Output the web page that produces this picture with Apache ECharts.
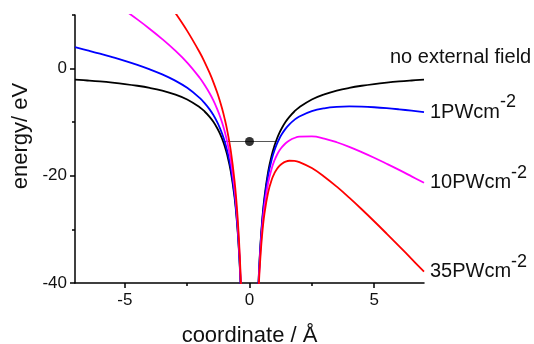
<!DOCTYPE html>
<html>
<head>
<meta charset="utf-8">
<script src="https://cdn.jsdelivr.net/npm/echarts@6/dist/echarts.min.js"></script>
<style>
  html, body { margin: 0; padding: 0; background: #fff; }
  #chart { width: 534px; height: 344px; }
</style>
</head>
<body>
<div id="chart"></div>
<script>
// Electron coordinate (Å) shared by all potential curves
const coordX = [-7, -6.5, -6, -5.5, -5, -4.5, -4, -3.5, -3, -2.5, -2, -1.8, -1.6, -1.45, -1.3, -1.2, -1.1, -1.0, -0.9, -0.75, -0.6, -0.5, -0.42, -0.36, -0.3,
  0,
  0.3, 0.36, 0.42, 0.5, 0.6, 0.75, 0.9, 1.0, 1.1, 1.2, 1.3, 1.45, 1.6, 1.8, 2, 2.5, 3, 3.5, 4, 4.5, 5, 5.5, 6, 6.5, 7];

// Potential energy (eV); null marks the nucleus gap and values above the plot
const noField = [-2.06, -2.22, -2.4, -2.62, -2.88, -3.2, -3.6, -4.11, -4.8, -5.76, -7.2, -8.0, -9.0, -9.93, -11.08, -12.0, -13.09, -14.4, -16.0, -19.2, -24.0, -28.8, -34.29, -40.0, -48.0,
  null,
  -48.0, -40.0, -34.29, -28.8, -24.0, -19.2, -16.0, -14.4, -13.09, -12.0, -11.08, -9.93, -9.0, -8.0, -7.2, -5.76, -4.8, -4.11, -3.6, -3.2, -2.88, -2.62, -2.4, -2.22, -2.06];

const field1 = [4.0, 3.41, 2.8, 2.14, 1.45, 0.7, -0.14, -1.08, -2.2, -3.59, -5.47, -6.44, -7.61, -8.67, -9.95, -10.96, -12.14, -13.53, -15.22, -18.55, -23.48, -28.37, -33.93, -39.69, -47.74,
  null,
  -48.26, -40.31, -34.65, -29.23, -24.52, -19.85, -16.78, -15.27, -14.04, -13.04, -12.21, -11.19, -10.39, -9.56, -8.93, -7.93, -7.4, -7.14, -7.06, -7.1, -7.21, -7.38, -7.6, -7.85, -8.12];

const field10 = [null, null, null, null, 10.87, 9.18, 7.4, 5.51, 3.45, 1.12, -1.7, -3.05, -4.6, -5.94, -7.51, -8.7, -10.07, -11.65, -13.53, -17.14, -22.35, -27.43, -33.14, -39.01, -47.18,
  null,
  -48.83, -40.99, -35.45, -30.18, -25.65, -21.26, -18.48, -17.15, -16.12, -15.3, -14.66, -13.92, -13.4, -12.95, -12.7, -12.64, -13.05, -13.74, -14.6, -15.58, -16.63, -17.75, -18.9, -20.1, -21.31];

const field35 = [null, null, null, null, null, null, null, null, 10.56, 7.04, 3.04, 1.22, -0.81, -2.51, -4.42, -5.86, -7.46, -9.28, -11.39, -15.36, -20.93, -26.24, -32.14, -38.16, -46.46,
  null,
  -49.54, -41.84, -36.44, -31.36, -27.07, -23.04, -20.61, -19.52, -18.72, -18.14, -17.74, -17.35, -17.19, -17.22, -17.44, -18.56, -20.16, -22.03, -24.08, -26.24, -28.48, -30.78, -33.12, -35.5, -37.9];

// Ground-state level and the segment drawn across the well
const groundLevel = -13.6;
const groundSpan = [-1.06, 1.06];
const groundDotX = 0;

// Curve labels (rich text: main part + superscript)
const curveLabels = ['{m|no external field}', '{m|1PWcm}{s|-2}', '{m|10PWcm}{s|-2}', '{m|35PWcm}{s|-2}'];
const curveColors = ['#000000', '#0000ff', '#ff00ff', '#ff0000'];

// Axis ticks
const xMajorTicks = [-5, 0, 5];
const xMinorTicks = [-2.5, 2.5];
const yMajorTicks = [-40, -20, 0];
const yMinorTicks = [-30, -10, 10];

const FONT = "'Liberation Sans', Arial, Helvetica, sans-serif";
const TEXT_COLOR = '#111';

function pairs(ys) {
  return coordX.map((x, i) => [x, ys[i] === null ? '-' : ys[i]]);
}

const gridBox = { left: 75, right: 110, top: 15, bottom: 61, containLabel: false, outerBoundsMode: 'none' };

const richStyles = {
  m: { fontSize: 20, color: TEXT_COLOR, fontFamily: FONT },
  s: { fontSize: 18, color: TEXT_COLOR, fontFamily: FONT, padding: [0, 0, 20, 0] }
};

function curveSeries(name, ys, idx, labelOffset) {
  return {
    name: name,
    type: 'line',
    xAxisIndex: 0,
    yAxisIndex: 0,
    data: pairs(ys),
    smooth: 0.4,
    showSymbol: false,
    symbol: 'none',
    clip: true,
    lineStyle: { color: curveColors[idx], width: 1.8 },
    itemStyle: { color: curveColors[idx] },
    z: 3 + idx,
    endLabel: {
      show: true,
      formatter: curveLabels[idx],
      distance: 6,
      offset: labelOffset,
      rich: richStyles
    }
  };
}

const chart = echarts.init(document.getElementById('chart'), null, { renderer: 'canvas' });

chart.setOption({
  animation: false,
  backgroundColor: '#fff',
  textStyle: { fontFamily: FONT },
  grid: [gridBox, Object.assign({}, gridBox)],
  xAxis: [
    {
      type: 'value', gridIndex: 0, min: -7, max: 7,
      axisLine: { show: true, onZero: false, lineStyle: { color: '#000', width: 1.5 } },
      axisTick: { show: true, customValues: xMajorTicks, length: 5, lineStyle: { color: '#000', width: 1.5 } },
      axisLabel: { customValues: xMajorTicks, fontSize: 17, color: TEXT_COLOR, margin: 9, fontFamily: FONT },
      splitLine: { show: false },
      name: 'coordinate / Å', nameLocation: 'middle', nameGap: 42,
      nameTextStyle: { fontSize: 22, color: TEXT_COLOR, fontFamily: FONT }
    },
    {
      // minor ticks only
      type: 'value', gridIndex: 1, min: -7, max: 7,
      axisLine: { show: false, onZero: false },
      axisTick: { show: true, customValues: xMinorTicks, length: 3, lineStyle: { color: '#000', width: 1.5 } },
      axisLabel: { show: false },
      splitLine: { show: false }
    }
  ],
  yAxis: [
    {
      type: 'value', gridIndex: 0, min: -40, max: 10,
      axisLine: { show: true, onZero: false, lineStyle: { color: '#000', width: 1.5 } },
      axisTick: { show: true, customValues: yMajorTicks, length: 5, lineStyle: { color: '#000', width: 1.5 } },
      axisLabel: { customValues: yMajorTicks, fontSize: 17, color: TEXT_COLOR, margin: 8, fontFamily: FONT },
      splitLine: { show: false },
      name: 'energy/ eV', nameLocation: 'middle', nameGap: 42,
      nameTextStyle: { fontSize: 22, color: TEXT_COLOR, fontFamily: FONT, padding: [0, 0, 0, 26] }
    },
    {
      // minor ticks only
      type: 'value', gridIndex: 1, min: -40, max: 10,
      axisLine: { show: false, onZero: false },
      axisTick: { show: true, customValues: yMinorTicks, length: 3, lineStyle: { color: '#000', width: 1.5 } },
      axisLabel: { show: false },
      splitLine: { show: false }
    }
  ],
  series: [
    {
      name: 'ground level',
      type: 'line',
      xAxisIndex: 0, yAxisIndex: 0,
      data: groundSpan.map(x => [x, groundLevel]),
      showSymbol: false, symbol: 'none',
      lineStyle: { color: '#555', width: 1 },
      z: 2
    },
    curveSeries('no external field', noField, 0, [-40, -22]),
    curveSeries('1PWcm-2', field1, 1, [0, 0]),
    curveSeries('10PWcm-2', field10, 2, [0, 0]),
    curveSeries('35PWcm-2', field35, 3, [0, 0]),
    {
      name: 'ground state',
      type: 'scatter',
      xAxisIndex: 0, yAxisIndex: 0,
      data: [[groundDotX, groundLevel]],
      symbol: 'circle', symbolSize: 9,
      itemStyle: { color: '#000' },
      z: 10
    }
  ]
});
</script>
</body>
</html>
